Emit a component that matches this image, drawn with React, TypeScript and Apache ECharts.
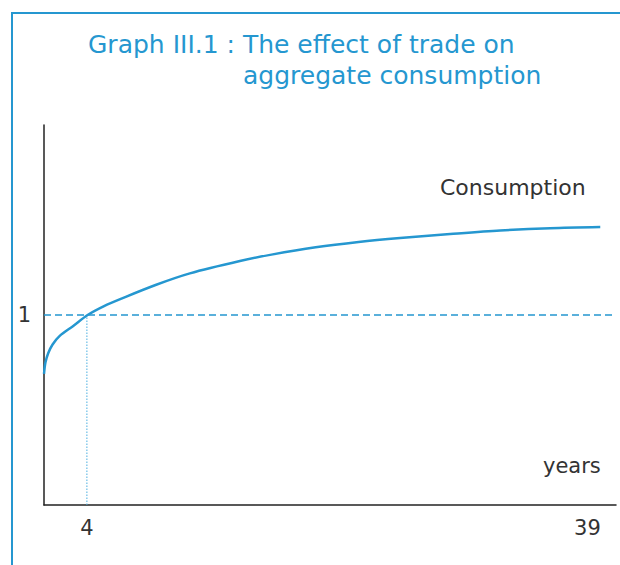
import React, { useEffect, useRef } from "react";
import * as echarts from "echarts";

const titleLine1 = "Graph III.1 : The effect of trade on";
const titleLine2 = "aggregate consumption";
const seriesName = "Consumption";
const xAxisName = "years";
const xTickValues = [4, 39];
const yTickValues = [1];
const years = [1, 1.1, 1.3, 1.6, 2.1, 3, 4.05, 5.2, 6.5, 8.8, 11.2, 14.7, 17, 20, 23, 25.9, 29.4, 32.9, 36.4, 39.9];
const consumption = [0.69, 0.75, 0.8, 0.845, 0.89, 0.94, 1.0, 1.047, 1.089, 1.158, 1.219, 1.284, 1.319, 1.356, 1.384, 1.405, 1.426, 1.445, 1.457, 1.463];
const referenceLevel = 1;
const referenceYear = 4;

const BLUE = "#2597d0";
const FONT = "'DejaVu Sans', sans-serif";

export default function App() {
  const ref = useRef<HTMLDivElement>(null);
  useEffect(() => {
    if (!ref.current) return;
    const chart = echarts.init(ref.current, null, { renderer: "svg" });
    chart.setOption({
      animation: false,
      title: [
        { text: titleLine1, left: 83, top: 27, textStyle: { color: BLUE, fontFamily: FONT, fontSize: 25, fontWeight: "normal" } },
        { text: titleLine2, left: 238, top: 58, textStyle: { color: BLUE, fontFamily: FONT, fontSize: 25, fontWeight: "normal" } },
      ],
      grid: { left: 44, right: 4, top: 125, bottom: 60 },
      xAxis: {
        type: "value",
        min: 1,
        max: 41,
        axisLine: { show: true, lineStyle: { color: "#222", width: 1.5 } },
        axisTick: { show: false },
        splitLine: { show: false },
        axisLabel: { customValues: xTickValues, color: "#333", fontFamily: FONT, fontSize: 21, margin: 12 },
      },
      yAxis: {
        type: "value",
        min: 0,
        max: 2,
        axisLine: { show: true, lineStyle: { color: "#222", width: 1.5 } },
        axisTick: { show: false },
        splitLine: { show: false },
        axisLabel: { customValues: yTickValues, color: "#333", fontFamily: FONT, fontSize: 21, margin: 13 },
      },
      graphic: [
        { type: "polyline", shape: { points: [[12, 565], [12, 13], [620, 13]] }, style: { stroke: BLUE, lineWidth: 2, fill: "none" } },
        { type: "text", left: 440, top: 176, style: { text: seriesName, fill: "#333", font: `22px ${FONT}` } },
        { type: "text", left: 543, top: 455, style: { text: xAxisName, fill: "#333", font: `21px ${FONT}` } },
      ],
      series: [
        {
          name: "reference",
          type: "line",
          data: [[1, referenceLevel], [40.8, referenceLevel]],
          symbol: "none",
          lineStyle: { color: BLUE, width: 1.5, type: [7, 4] },
          silent: true,
        },
        {
          name: "year",
          type: "line",
          data: [[referenceYear, 0], [referenceYear, referenceLevel]],
          symbol: "none",
          lineStyle: { color: "#4aaee0", width: 1, type: [1.5, 1.5] },
          silent: true,
        },
        {
          name: seriesName,
          type: "line",
          smooth: 0.3,
          data: years.map((y, i) => [y, consumption[i]]),
          symbol: "none",
          lineStyle: { color: BLUE, width: 2.5 },
        },
      ],
    });
    return () => chart.dispose();
  }, []);
  return <div ref={ref} style={{ position: "fixed", left: 0, top: 0, width: 620, height: 565, background: "#fff" }} />;
}
